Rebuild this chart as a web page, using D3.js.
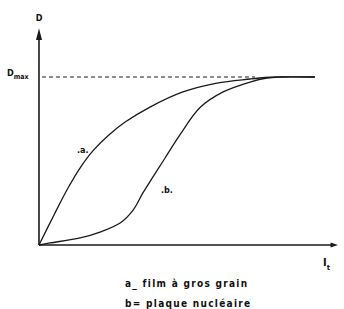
<!DOCTYPE html>
<html>
<head>
<meta charset="utf-8">
<script src="https://cdn.jsdelivr.net/npm/d3@7"></script>
<style>
  body { margin: 0; background: #fff; }
  text { font-family: "DejaVu Sans Condensed", "Liberation Sans Narrow", sans-serif; font-weight: bold; fill: #111; }
</style>
</head>
<body>
<svg id="chart" width="344" height="309"></svg>
<script>
// curve a: film à gros grain (x = It, D)
const curveA = [
  [0, 0], [5.07, 0.179], [9.8, 0.339], [13.85, 0.458], [18.2, 0.56],
  [24, 0.661], [29.1, 0.732], [37.5, 0.821], [48.6, 0.911], [60.1, 0.964],
  [71.3, 0.988], [76.4, 0.997], [80, 1], [93.2, 1]
];
// curve b: plaque nucléaire
const curveB = [
  [0, 0], [3.7, 0.012], [13.9, 0.042], [20.6, 0.077], [27.4, 0.131], [31.8, 0.208],
  [35.1, 0.31], [38.5, 0.405], [42.6, 0.518], [47.6, 0.655], [54.4, 0.818],
  [62.2, 0.911], [71.3, 0.97], [77, 0.994], [81.4, 1], [93.2, 1]
];
const dMax = 1;
const dashEnd = 73;
const curveLabels = [
  { text: ".a.", x: 14.8, y: 0.55 },
  { text: ".b.", x: 43.2, y: 0.31 }
];
const legendLines = ["a_ film à gros grain", "b= plaque nucléaire"];

const svg = d3.select("#chart");

const x = d3.scaleLinear().domain([0, 100]).range([39, 335]);
const y = d3.scaleLinear().domain([0, 1]).range([245, 77]);

const ink = "#1a1a1a";

// axes with arrowheads
svg.append("line")
  .attr("x1", x(0)).attr("x2", x(0))
  .attr("y1", y(0)).attr("y2", y(1.26))
  .attr("stroke", ink).attr("stroke-width", 1.6);
svg.append("path")
  .attr("d", `M${x(0)},${y(1.29)} L${x(0) - 3},${y(1.22)} L${x(0) + 3},${y(1.22)} Z`)
  .attr("fill", ink);

svg.append("line")
  .attr("x1", x(0)).attr("x2", x(99.5))
  .attr("y1", y(0)).attr("y2", y(0))
  .attr("stroke", ink).attr("stroke-width", 1.6);
svg.append("path")
  .attr("d", `M${x(101)},${y(0)} L${x(98.5)},${y(0) - 2.5} L${x(98.5)},${y(0) + 2.5} Z`)
  .attr("fill", ink);

// Dmax dashed line
svg.append("line")
  .attr("x1", x(1)).attr("x2", x(dashEnd))
  .attr("y1", y(dMax)).attr("y2", y(dMax))
  .attr("stroke", ink).attr("stroke-width", 1.1)
  .attr("stroke-dasharray", "4,3");

// curves
const line = d3.line()
  .x(d => x(d[0]))
  .y(d => y(d[1]))
  .curve(d3.curveCatmullRom.alpha(0.5));

[curveA, curveB].forEach(c => {
  svg.append("path")
    .datum(c)
    .attr("fill", "none")
    .attr("stroke", ink)
    .attr("stroke-width", 1.3)
    .attr("d", line);
});

// curve labels
curveLabels.forEach(l => {
  svg.append("text")
    .attr("x", x(l.x)).attr("y", y(l.y))
    .attr("text-anchor", "middle")
    .attr("font-size", 9)
    .text(l.text);
});

// axis labels
svg.append("text")
  .attr("x", x(0)).attr("y", 21)
  .attr("text-anchor", "middle")
  .attr("font-size", 9)
  .text("D");

const dm = svg.append("text")
  .attr("x", 7).attr("y", y(dMax) - 1)
  .attr("font-size", 9);
dm.append("tspan").text("D");
dm.append("tspan").attr("dy", 3).attr("font-size", 7).text("max");

const it = svg.append("text")
  .attr("x", 323).attr("y", 266)
  .attr("font-size", 11)
  .attr("font-family", "DejaVu Serif")
  .text("I");
it.append("tspan").attr("dy", 4).attr("font-size", 7).attr("font-family", "DejaVu Sans").text("t");

// legend
legendLines.forEach((t, i) => {
  svg.append("text")
    .attr("x", 125).attr("y", 287 + i * 20)
    .attr("font-size", 10)
    .attr("letter-spacing", 1.3)
    .text(t);
});
</script>
</body>
</html>
